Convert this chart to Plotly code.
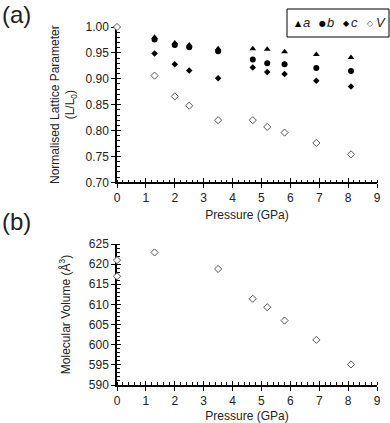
import plotly.graph_objects as go

# ---- data ----
pressure_lat = [1.3, 2.0, 2.5, 3.5, 4.7, 5.2, 5.8, 6.9, 8.1]
a_norm = [0.980, 0.969, 0.965, 0.958, 0.958, 0.957, 0.952, 0.947, 0.941]
b_norm = [0.976, 0.965, 0.961, 0.953, 0.937, 0.930, 0.928, 0.921, 0.915]
c_norm = [0.949, 0.928, 0.916, 0.901, 0.922, 0.913, 0.909, 0.896, 0.885]
pressure_v = [0, 1.3, 2.0, 2.5, 3.5, 4.7, 5.2, 5.8, 6.9, 8.1]
v_norm = [1.000, 0.906, 0.866, 0.848, 0.820, 0.820, 0.807, 0.796, 0.776, 0.754]

pressure_vol = [0, 0, 1.3, 3.5, 4.7, 5.2, 5.8, 6.9, 8.1]
mol_volume = [621.0, 617.0, 622.9, 618.8, 611.4, 609.3, 606.0, 601.2, 595.1]

x_ticks = list(range(0, 10))
legend_symbols = ["▲", "●", "◆", "◇"]
legend_labels = ["a", "b", "c", "V"]

font_family = "Liberation Sans, Arial, sans-serif"
txt = "#222"

W, H = 390, 423
ML, MR, MT, MB = 117, 13, 27, 38
PW, PH = W - ML - MR, H - MT - MB


def px_x(px):
    return (px - ML) / PW


def px_y(py):
    return (H - MB - py) / PH


fig = go.Figure()
# empty traces so the overlay axes (inner half of crossing ticks) are created
for xa, ya in [("x3", "y3"), ("x4", "y4")]:
    fig.add_trace(go.Scatter(x=[], y=[], xaxis=xa, yaxis=ya, showlegend=False))

fig.add_trace(go.Scatter(x=pressure_lat, y=a_norm, mode="markers", name="a",
                         marker=dict(symbol="triangle-up", size=6, color="black"),
                         xaxis="x", yaxis="y", cliponaxis=False))
fig.add_trace(go.Scatter(x=pressure_lat, y=b_norm, mode="markers", name="b",
                         marker=dict(symbol="circle", size=6, color="black"),
                         xaxis="x", yaxis="y", cliponaxis=False))
fig.add_trace(go.Scatter(x=pressure_lat, y=c_norm, mode="markers", name="c",
                         marker=dict(symbol="diamond", size=5, color="black"),
                         xaxis="x", yaxis="y", cliponaxis=False))
fig.add_trace(go.Scatter(x=pressure_v, y=v_norm, mode="markers", name="V",
                         marker=dict(symbol="diamond", size=5.5, color="white",
                                     line=dict(color="#555", width=1)),
                         xaxis="x", yaxis="y", cliponaxis=False))
fig.add_trace(go.Scatter(x=pressure_vol, y=mol_volume, mode="markers", name="Volume",
                         marker=dict(symbol="diamond", size=5.5, color="white",
                                     line=dict(color="#555", width=1)),
                         xaxis="x2", yaxis="y2", cliponaxis=False))

top_dom = [px_y(182.3), 1.0]
bot_dom = [0.0, px_y(244)]


def xax(anchor, title, standoff):
    return dict(range=[0, 9], tickvals=x_ticks, showgrid=False, zeroline=False,
                showline=True, linecolor="black", linewidth=1.5, layer="below traces",
                automargin=False,
                ticks="outside", ticklen=4, tickwidth=1.2, tickcolor="black",
                minor=dict(dtick=0.2, ticks="inside", ticklen=3, tickcolor="black", tickwidth=1),
                tickfont=dict(size=12, color=txt, family=font_family),
                title=dict(text=title, font=dict(size=12, color=txt, family=font_family),
                           standoff=standoff),
                anchor=anchor)


def overlay_x(over, anchor):
    return dict(overlaying=over, anchor=anchor, range=[0, 9], tickvals=x_ticks,
                showgrid=False, zeroline=False, showline=False, showticklabels=False,
                layer="below traces", automargin=False,
                ticks="inside", ticklen=4, tickwidth=1.2, tickcolor="black", side="bottom")


def overlay_y(over, anchor, rng, dt):
    return dict(overlaying=over, anchor=anchor, range=rng, dtick=dt,
                showgrid=False, zeroline=False, showline=False, showticklabels=False,
                layer="below traces", automargin=False,
                ticks="inside", ticklen=4, tickwidth=1.2, tickcolor="black", side="left")


fig.update_layout(
    width=W, height=H,
    margin=dict(l=ML, r=MR, t=MT, b=MB),
    paper_bgcolor="white", plot_bgcolor="rgba(0,0,0,0)",
    showlegend=False,
    font=dict(family=font_family, color=txt),
    xaxis=xax("y", "Pressure (GPa)", 6),
    xaxis2=xax("y2", "Pressure (GPa)", 6),
    yaxis=dict(domain=top_dom, range=[0.70, 1.00], dtick=0.05, tickformat=".2f",
               showgrid=False, zeroline=False, showline=True, linecolor="black", linewidth=1.5,
               layer="below traces", automargin=False,
               ticks="outside", ticklen=4, tickwidth=1.2, tickcolor="black",
               minor=dict(dtick=0.01, ticks="inside", ticklen=3, tickcolor="black", tickwidth=1),
               tickfont=dict(size=12, color=txt, family=font_family),
               title=dict(text="Normalised Lattice Parameter<br>(L/L<sub>0</sub>)",
                          font=dict(size=12, color=txt, family=font_family), standoff=8),
               anchor="x"),
    yaxis2=dict(domain=bot_dom, range=[590, 625], dtick=5,
                showgrid=False, zeroline=False, showline=True, linecolor="black", linewidth=1.5,
                layer="below traces", automargin=False,
                ticks="outside", ticklen=4, tickwidth=1.2, tickcolor="black",
                minor=dict(dtick=1, ticks="inside", ticklen=3, tickcolor="black", tickwidth=1),
                tickfont=dict(size=12, color=txt, family=font_family),
                title=dict(text="Molecular Volume (Å<sup>3</sup>)",
                           font=dict(size=12, color=txt, family=font_family), standoff=16),
                anchor="x2"),
    xaxis3=overlay_x("x", "y"),
    yaxis3=overlay_y("y", "x", [0.70, 1.00], 0.05),
    xaxis4=overlay_x("x2", "y2"),
    yaxis4=overlay_y("y2", "x2", [590, 625], 5),
)

# panel labels
fig.add_annotation(text="(a)", xref="paper", yref="paper", x=px_x(0), y=px_y(15),
                   xanchor="left", yanchor="middle", showarrow=False,
                   font=dict(size=24, color=txt, family=font_family))
fig.add_annotation(text="(b)", xref="paper", yref="paper", x=px_x(0), y=px_y(222),
                   xanchor="left", yanchor="middle", showarrow=False,
                   font=dict(size=24, color=txt, family=font_family))

# legend box
fig.add_shape(type="rect", xref="paper", yref="paper",
              x0=px_x(287), x1=px_x(389), y0=px_y(37), y1=px_y(9),
              line=dict(color="black", width=1), fillcolor="white", layer="below")
sym_px = [298, 322.5, 346.5, 370]
lab_px = [306, 330, 354, 381]
for s, l, sx, lx in zip(legend_symbols, legend_labels, sym_px, lab_px):
    fig.add_annotation(text=s, xref="paper", yref="paper", x=px_x(sx), y=px_y(23.5),
                       xanchor="center", yanchor="middle", showarrow=False,
                       font=dict(size=8, color="#555" if s == "◇" else "black",
                                 family="DejaVu Sans"))
    fig.add_annotation(text="<i>" + l + "</i>", xref="paper", yref="paper",
                       x=px_x(lx), y=px_y(23), xanchor="center", yanchor="middle",
                       showarrow=False,
                       font=dict(size=13, color=txt, family=font_family))

fig.write_html("out.html", config={"displayModeBar": False},
               post_script="document.body.style.margin='0';")
